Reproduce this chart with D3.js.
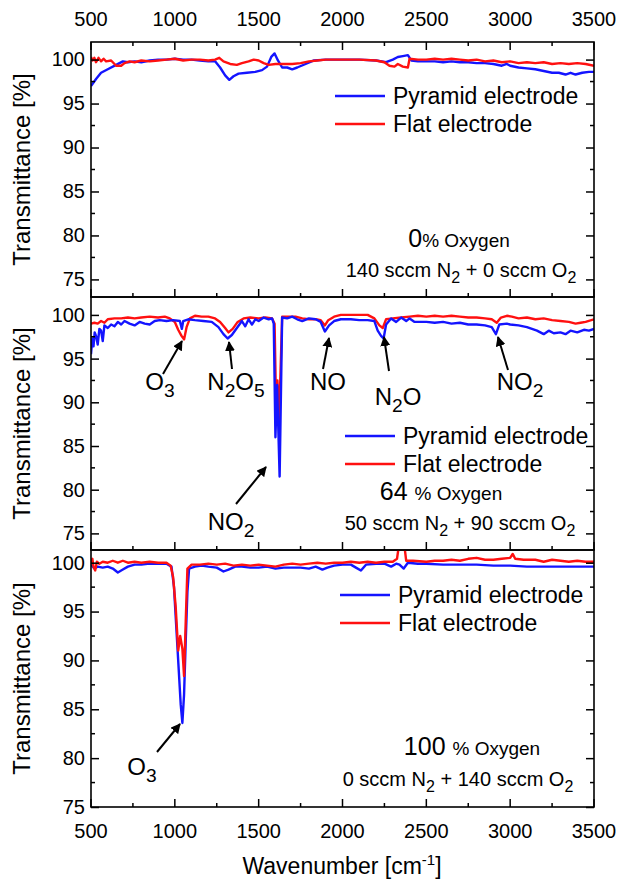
<!DOCTYPE html>
<html>
<head>
<meta charset="utf-8">
<script src="https://cdn.jsdelivr.net/npm/d3@7"></script>
<style>
  body { margin: 0; background: #fff; }
  svg { font-family: "Liberation Sans", Arial, sans-serif; }
</style>
</head>
<body>
<div id="chart"></div>
<script>
// x ticks shared by all panels
const xTicks = [500, 1000, 1500, 2000, 2500, 3000, 3500];
const yTicks = [75, 80, 85, 90, 95, 100];

// panel 1: 0 % oxygen  [wavenumber, transmittance]
const pyr0 = [[500,97.0],[530,97.8],[560,98.5],[600,98.9],[650,99.4],[690,99.8],[720,99.7],[760,99.8],[800,99.7],[850,99.9],[900,100.0],[950,100.0],[1000,100.1],[1050,100.0],[1100,100.0],[1150,99.9],[1200,99.8],[1240,99.8],[1270,99.1],[1300,98.2],[1325,97.7],[1350,98.1],[1380,98.4],[1430,98.5],[1480,98.6],[1520,98.8],[1550,99.2],[1575,100.3],[1595,100.7],[1615,99.9],[1640,99.1],[1670,99.1],[1700,98.9],[1730,99.1],[1780,99.5],[1830,99.9],[1900,100.0],[2000,100.0],[2100,100.0],[2200,99.9],[2260,99.7],[2300,100.0],[2330,100.3],[2360,100.4],[2390,100.5],[2410,99.9],[2450,99.8],[2500,99.8],[2550,99.8],[2600,99.7],[2650,99.8],[2700,99.7],[2750,99.7],[2800,99.6],[2850,99.6],[2900,99.5],[2950,99.3],[2980,99.5],[3000,99.3],[3050,99.1],[3100,99.0],[3150,98.9],[3200,98.7],[3250,98.5],[3290,98.5],[3330,98.3],[3360,98.5],[3390,98.3],[3430,98.5],[3470,98.6],[3500,98.6]];
const flat0 = [[500,100.3],[510,99.9],[520,100.2],[530,99.7],[545,100.2],[560,99.8],[575,100.1],[590,99.8],[620,99.9],[650,99.3],[680,99.3],[700,99.6],[730,99.8],[760,99.7],[800,99.9],[850,99.8],[900,99.9],[950,100.0],[1000,100.1],[1050,99.9],[1100,100.0],[1150,100.0],[1200,99.9],[1240,100.0],[1265,100.2],[1290,99.8],[1330,99.5],[1370,99.4],[1400,99.6],[1440,99.8],[1470,100.0],[1500,99.9],[1530,99.6],[1560,99.4],[1600,99.5],[1650,99.5],[1700,99.5],[1750,99.6],[1800,99.8],[1850,99.9],[1900,100.0],[2000,100.0],[2100,100.0],[2200,99.9],[2250,99.7],[2280,99.3],[2310,99.2],[2330,99.5],[2360,99.2],[2390,99.1],[2400,100.1],[2450,100.0],[2500,100.0],[2550,100.1],[2600,100.0],[2650,100.1],[2700,100.0],[2750,99.9],[2800,100.0],[2850,99.8],[2900,99.9],[2950,99.7],[3000,99.8],[3050,99.6],[3100,99.7],[3150,99.6],[3200,99.7],[3250,99.5],[3300,99.6],[3350,99.5],[3400,99.6],[3450,99.5],[3500,99.3]];

// panel 2: 64 % oxygen
const pyr64 = [[500,95.5],[508,97.3],[515,96.4],[522,98.0],[530,97.6],[540,96.6],[550,98.4],[560,98.2],[570,97.0],[580,98.8],[600,98.5],[620,98.9],[640,98.7],[660,99.2],[680,98.9],[700,99.3],[730,99.0],[760,98.8],[790,99.2],[820,99.0],[850,98.9],[880,99.3],[910,99.4],[950,99.3],[990,99.4],[1030,99.3],[1042,98.4],[1050,99.3],[1080,99.5],[1120,99.4],[1170,99.3],[1220,99.2],[1260,98.6],[1290,97.8],[1315,97.3],[1340,97.7],[1370,98.5],[1400,99.3],[1420,98.7],[1440,99.5],[1460,98.9],[1480,99.5],[1500,99.3],[1530,99.7],[1560,99.5],[1580,99.6],[1590,99.0],[1600,86.0],[1610,92.0],[1625,81.5],[1640,99.7],[1670,99.6],[1700,99.8],[1730,99.5],[1760,99.3],[1800,99.6],[1840,99.5],[1870,99.2],[1895,98.1],[1920,98.8],[1950,99.3],[1990,99.5],[2050,99.5],[2100,99.4],[2150,99.4],[2190,99.3],[2210,98.2],[2230,97.6],[2245,97.3],[2260,98.9],[2290,99.6],[2320,99.2],[2350,99.7],[2380,99.3],[2400,99.6],[2430,99.2],[2500,99.2],[2550,99.1],[2600,99.2],[2650,99.0],[2700,99.1],[2750,98.9],[2800,98.9],[2850,98.8],[2890,98.6],[2915,97.8],[2935,98.9],[2980,99.0],[3000,98.9],[3050,98.8],[3100,98.6],[3130,98.4],[3160,98.2],[3200,97.8],[3230,98.2],[3260,97.9],[3300,98.0],[3330,97.8],[3360,98.2],[3400,98.0],[3440,98.3],[3470,98.2],[3500,98.4]];
const flat64 = [[500,99.0],[520,99.1],[540,99.0],[560,99.3],[580,99.1],[600,99.5],[640,99.6],[680,99.6],[720,99.7],[760,99.6],[800,99.7],[850,99.8],[900,99.7],[940,99.8],[970,99.6],[1000,99.2],[1020,98.3],[1040,97.6],[1055,97.2],[1070,98.6],[1090,99.6],[1120,99.9],[1160,99.8],[1200,99.8],[1240,99.6],[1270,99.2],[1300,98.5],[1320,98.0],[1345,98.4],[1375,99.2],[1410,99.6],[1450,99.7],[1500,99.6],[1540,99.7],[1580,99.6],[1595,99.0],[1603,90.5],[1612,92.5],[1622,88.0],[1640,99.8],[1680,99.8],[1720,99.8],[1760,99.6],[1800,99.5],[1840,99.5],[1870,99.4],[1895,98.8],[1915,99.4],[1950,99.8],[1990,100.0],[2050,100.0],[2100,100.0],[2150,100.0],[2190,99.6],[2220,98.8],[2240,98.5],[2260,99.5],[2300,99.6],[2350,99.7],[2400,99.8],[2450,99.9],[2500,99.8],[2550,99.9],[2600,99.8],[2650,99.9],[2700,99.8],[2750,99.7],[2800,99.7],[2850,99.6],[2890,99.5],[2920,99.1],[2945,99.7],[2980,99.9],[3010,99.8],[3050,99.6],[3100,99.7],[3150,99.5],[3200,99.6],[3250,99.4],[3300,99.3],[3350,99.2],[3390,99.0],[3420,99.1],[3450,99.2],[3500,99.5]];

// panel 3: 100 % oxygen
const pyr100 = [[500,99.8],[520,99.4],[540,99.6],[570,99.5],[600,99.6],[630,99.4],[660,99.0],[690,99.3],[720,99.6],[760,99.8],[800,99.8],[850,99.9],[900,99.9],[950,99.9],[980,99.6],[995,97.5],[1005,94.5],[1020,90.0],[1035,85.5],[1045,83.6],[1055,86.5],[1065,92.0],[1075,97.0],[1085,99.4],[1120,99.6],[1160,99.7],[1200,99.6],[1250,99.5],[1290,99.1],[1320,99.3],[1360,99.6],[1400,99.6],[1450,99.5],[1500,99.5],[1550,99.6],[1600,99.4],[1650,99.5],[1700,99.5],[1750,99.5],[1800,99.4],[1840,99.6],[1880,99.3],[1910,99.5],[1950,99.7],[2000,99.8],[2050,99.8],[2080,99.5],[2110,99.2],[2140,99.8],[2200,99.9],[2250,99.9],[2290,99.6],[2320,99.9],[2340,99.8],[2365,99.4],[2390,100.0],[2450,99.9],[2500,99.9],[2600,99.8],[2700,99.8],[2800,99.8],[2900,99.7],[3000,99.7],[3100,99.6],[3200,99.6],[3300,99.6],[3400,99.6],[3500,99.6]];
const flat100 = [[500,99.9],[508,100.4],[515,99.6],[525,99.2],[535,100.1],[550,99.9],[570,100.1],[600,100.0],[630,100.2],[660,100.0],[690,100.2],[720,100.0],[760,100.1],[800,100.0],[850,100.1],[900,100.0],[950,100.0],[975,99.7],[990,98.5],[1005,95.5],[1020,91.0],[1032,92.5],[1045,91.2],[1055,88.4],[1065,94.0],[1075,99.4],[1100,99.8],[1150,99.8],[1200,99.9],[1250,99.8],[1300,99.9],[1350,99.7],[1400,99.8],[1450,99.7],[1500,99.8],[1550,99.7],[1600,99.6],[1650,99.8],[1700,99.9],[1750,99.8],[1800,99.9],[1850,100.0],[1900,99.9],[1950,100.0],[2000,100.0],[2050,100.1],[2100,100.0],[2150,100.1],[2200,100.0],[2250,100.1],[2300,100.1],[2325,100.4],[2335,101.6],[2370,101.6],[2380,100.2],[2420,100.2],[2500,100.1],[2550,100.2],[2600,100.2],[2650,100.3],[2700,100.2],[2750,100.4],[2800,100.5],[2850,100.3],[2900,100.3],[2950,100.4],[3000,100.5],[3015,100.9],[3030,100.4],[3080,100.3],[3150,100.3],[3200,100.1],[3250,100.3],[3300,100.2],[3350,100.1],[3400,100.2],[3450,100.1],[3500,100.1]];

const seriesNames = ["Pyramid electrode", "Flat electrode"];
const colors = ["#1414ff", "#ff1010"];

const W = 624, H = 886;
const svg = d3.select("#chart").append("svg").attr("width", W).attr("height", H);

const x = d3.scaleLinear().domain([500, 3500]).range([91, 594]);

const panels = [
  { top: 42, bottom: 297, domain: [73, 102], data: [pyr0, flat0], topAxis: true,
    legend: [335, 96], pct: ["0", "% Oxygen", 459, 247], flow: ["140 sccm N", " + 0 sccm O", 461, 277],
    notes: [] },
  { top: 297, bottom: 550, domain: [73.1, 102.05], data: [pyr64, flat64], topAxis: false,
    legend: [345, 436], pct: ["64 ", "% Oxygen", 441, 500], flow: ["50 sccm N", " + 90 sccm O", 460, 530],
    notes: [
      { lab: ["O", "3"], tx: 160, ty: 390, from: [163, 374], to: [182, 341] },
      { lab: ["N", "2", "O", "5"], tx: 236, ty: 390, from: [232, 369], to: [229, 342] },
      { lab: ["NO"], tx: 328, ty: 390, from: [323, 369], to: [329, 338] },
      { lab: ["N", "2", "O"], tx: 398, ty: 405, from: [389, 371], to: [384, 337] },
      { lab: ["NO", "2"], tx: 520, ty: 390, from: [508, 370], to: [498, 337] },
      { lab: ["NO", "2"], tx: 231, ty: 530, from: [236, 504], to: [266, 467] }
    ] },
  { top: 550, bottom: 807, domain: [75, 101.3], data: [pyr100, flat100], topAxis: false,
    legend: [340, 595], pct: ["100 ", "% Oxygen", 472, 755], flow: ["0 sccm N", " + 140 sccm O", 458, 786],
    notes: [
      { lab: ["O", "3"], tx: 142, ty: 775, from: [157, 752], to: [180, 724] }
    ] }
];

svg.append("defs").append("marker")
  .attr("id", "arrow").attr("viewBox", "0 0 10 10").attr("refX", 9).attr("refY", 5)
  .attr("markerWidth", 5).attr("markerHeight", 5).attr("orient", "auto")
  .append("path").attr("d", "M0,0 L10,5 L0,10 z").attr("fill", "#000");

// text with alternating normal / subscript parts
function richText(g, parts, px, py, size, anchor) {
  const t = g.append("text").attr("x", px).attr("y", py)
    .attr("font-size", size).attr("text-anchor", anchor || "middle").attr("fill", "#000");
  const off = Math.round(size * 0.3);
  parts.forEach((p, i) => {
    const sub = i % 2 === 1;
    t.append("tspan").text(p)
      .attr("font-size", sub ? size * 0.8 : size)
      .attr("dy", sub ? off : (i > 0 ? -off : 0));
  });
  return t;
}

panels.forEach((p, pi) => {
  const g = svg.append("g");
  const y = d3.scaleLinear().domain(p.domain).range([p.bottom, p.top]);
  const clipId = "clip" + pi;
  g.append("clipPath").attr("id", clipId).append("rect")
    .attr("x", 91).attr("y", p.top).attr("width", 503).attr("height", p.bottom - p.top);

  const line = d3.line().x(d => x(d[0])).y(d => y(d[1]));
  // red below blue in the middle panel, above it elsewhere
  const order = pi === 1 ? [1, 0] : [0, 1];
  order.forEach(si => {
    g.append("path").datum(p.data[si]).attr("d", line)
      .attr("fill", "none").attr("stroke", colors[si]).attr("stroke-width", 2.4)
      .attr("stroke-linejoin", "round").attr("clip-path", `url(#${clipId})`);
  });

  // y axes left and right
  const yMinor = d3.range(75, 101, 2.5);
  const yl = d3.axisLeft(y).tickValues(yTicks).tickSize(-8).tickPadding(4);
  const ylG = g.append("g").attr("transform", "translate(91,0)").call(yl);
  ylG.select(".domain").remove();
  ylG.selectAll("text").attr("font-size", 20).attr("x", -6).attr("fill", "#000")
    .style("font-family", "Liberation Sans, Arial, sans-serif");
  ylG.selectAll("line").attr("stroke-width", 1.5);
  const yr = d3.axisRight(y).tickValues(yTicks).tickSize(-8).tickFormat("");
  const yrG = g.append("g").attr("transform", "translate(594,0)").call(yr);
  yrG.select(".domain").remove();
  yrG.selectAll("line").attr("stroke-width", 1.5);
  [91, 594].forEach((xx, k) => {
    g.append("g").selectAll("line").data(yMinor.filter(v => v % 5 !== 0)).join("line")
      .attr("x1", xx).attr("x2", k ? xx - 4 : xx + 4)
      .attr("y1", d => y(d)).attr("y2", d => y(d)).attr("stroke", "#000").attr("stroke-width", 1.5);
  });

  // x ticks at bottom (inward), and top on first panel
  const xMinor = d3.range(750, 3500, 500);
  const sides = p.topAxis ? [[p.bottom, -1], [p.top, 1]] : [[p.bottom, -1]];
  sides.forEach(([yy, dir]) => {
    g.append("g").selectAll("line").data(xTicks).join("line")
      .attr("x1", d => x(d)).attr("x2", d => x(d)).attr("y1", yy).attr("y2", yy + dir * 8)
      .attr("stroke", "#000").attr("stroke-width", 1.5);
    g.append("g").selectAll("line").data(xMinor).join("line")
      .attr("x1", d => x(d)).attr("x2", d => x(d)).attr("y1", yy).attr("y2", yy + dir * 4)
      .attr("stroke", "#000").attr("stroke-width", 1.5);
  });
  if (p.topAxis) {
    g.append("g").selectAll("text").data(xTicks).join("text")
      .attr("x", d => x(d)).attr("y", 26).attr("text-anchor", "middle")
      .attr("font-size", 20).text(d => d);
  }

  // frame
  g.append("rect").attr("x", 91).attr("y", p.top).attr("width", 503).attr("height", p.bottom - p.top)
    .attr("fill", "none").attr("stroke", "#000").attr("stroke-width", 1.6);

  // y title
  g.append("text").attr("transform", `translate(30,${(p.top + p.bottom) / 2}) rotate(-90)`)
    .attr("text-anchor", "middle").attr("font-size", 24).text("Transmittance [%]");

  // legend
  seriesNames.forEach((n, i) => {
    const ly = p.legend[1] + i * 28;
    g.append("line").attr("x1", p.legend[0]).attr("x2", p.legend[0] + 50)
      .attr("y1", ly).attr("y2", ly).attr("stroke", colors[i]).attr("stroke-width", 2.4);
    g.append("text").attr("x", p.legend[0] + 58).attr("y", ly + 8)
      .attr("font-size", 23).text(n);
  });

  // oxygen share
  const pt = g.append("text").attr("x", p.pct[2]).attr("y", p.pct[3]).attr("text-anchor", "middle");
  pt.append("tspan").attr("font-size", 25).text(p.pct[0]);
  pt.append("tspan").attr("font-size", 19).text(p.pct[1]);

  // flow
  richText(g, [p.flow[0], "2", p.flow[1], "2"], p.flow[2], p.flow[3], 20, "middle");

  // annotations
  p.notes.forEach(n => {
    g.append("line").attr("x1", n.from[0]).attr("y1", n.from[1]).attr("x2", n.to[0]).attr("y2", n.to[1])
      .attr("stroke", "#000").attr("stroke-width", 2).attr("marker-end", "url(#arrow)");
    richText(g, n.lab, n.tx, n.ty, 24, "middle");
  });
});

// bottom axis labels
svg.append("g").selectAll("text").data(xTicks).join("text")
  .attr("x", d => x(d)).attr("y", 838).attr("text-anchor", "middle")
  .attr("font-size", 20).text(d => d);

const xt = svg.append("text").attr("x", 342).attr("y", 874).attr("text-anchor", "middle").attr("font-size", 23);
xt.append("tspan").text("Wavenumber [cm");
xt.append("tspan").attr("font-size", 15).attr("dy", -9).text("-1");
xt.append("tspan").attr("dy", 9).text("]");
</script>
</body>
</html>
